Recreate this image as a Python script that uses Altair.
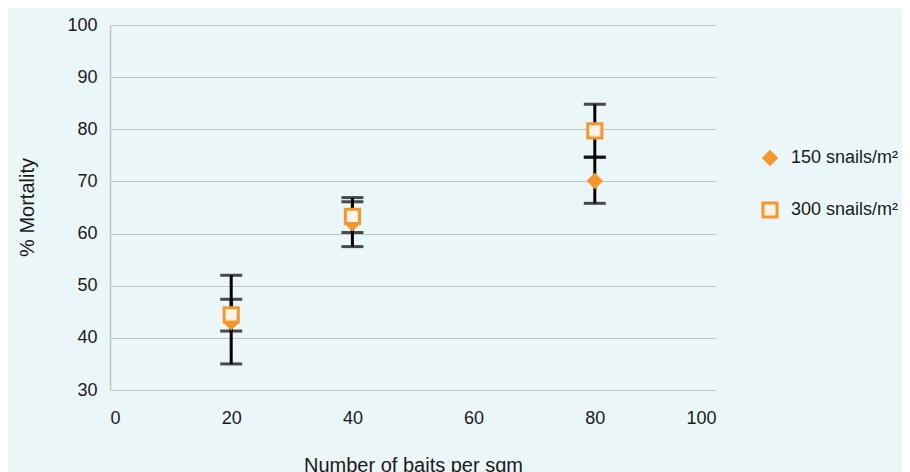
import altair as alt
import pandas as pd

# ---- data ----
baits = [20, 40, 80]
series_names = ["150 snails/m²", "300 snails/m²"]
mort_150 = [43.0, 62.0, 70.1]
low_150 = [35.0, 57.5, 65.8]
high_150 = [52.0, 66.9, 74.7]
mort_300 = [44.4, 63.3, 79.7]
low_300 = [41.3, 60.2, 74.6]
high_300 = [47.4, 66.1, 84.8]

x_ticks = [0, 20, 40, 60, 80, 100]
y_ticks = [30, 40, 50, 60, 70, 80, 90, 100]

rows = []
for name, m, lo, hi in [(series_names[0], mort_150, low_150, high_150),
                        (series_names[1], mort_300, low_300, high_300)]:
    for b, mv, l, h in zip(baits, m, lo, hi):
        rows.append({"baits": b, "series": name, "mortality": mv, "low": l, "high": h})
df = pd.DataFrame(rows)

ORANGE = "#F7962B"
LIGHT = "#FEF3E8"
BG = "#EAF6F8"
GRID = "#C4C4C4"
FONT = "Liberation Sans, Arial"
TXT = "#1a1a1a"

x_enc = alt.X("baits:Q",
              scale=alt.Scale(domain=[0, 100], nice=False),
              axis=alt.Axis(values=x_ticks, grid=False, domain=False, ticks=False,
                            labelFont=FONT, labelFontSize=18, labelColor=TXT,
                            labelPadding=19,
                            title="Number of baits per sqm", titleFont=FONT,
                            titleFontSize=20, titleFontWeight="normal", titleColor=TXT,
                            titleY=75, titleBaseline="middle"))
y_scale = alt.Scale(domain=[30, 100], nice=False)

base = alt.Chart(df)

err = base.mark_rule(color="black", strokeWidth=3).encode(
    x=x_enc,
    y=alt.Y("low:Q", scale=y_scale,
            axis=alt.Axis(values=y_ticks, grid=True, gridColor=GRID, gridWidth=1,
                          domain=True, domainColor=GRID, domainWidth=1.5, ticks=False,
                          labelFont=FONT, labelFontSize=18, labelColor=TXT,
                          labelPadding=13,
                          title="% Mortality", titleFont=FONT, titleFontSize=20,
                          titleFontWeight="normal", titleColor=TXT,
                          titleAngle=270, titleX=-83, titleY=182,
                          titleAlign="center", titleBaseline="middle")),
    y2="high:Q",
)
cap_lo = base.mark_tick(color="black", thickness=3, size=22, orient="horizontal").encode(
    x="baits:Q", y=alt.Y("low:Q", scale=y_scale))
cap_hi = base.mark_tick(color="black", thickness=3, size=22, orient="horizontal").encode(
    x="baits:Q", y=alt.Y("high:Q", scale=y_scale))

legend = alt.Legend(title=None, orient="none", legendX=651, legendY=124,
                    labelFont=FONT, labelFontSize=18, labelColor=TXT, labelLimit=200,
                    symbolStrokeWidth=3, rowPadding=25, labelOffset=12, padding=0)

pts = base.mark_point(filled=False, opacity=1).encode(
    x="baits:Q",
    y=alt.Y("mortality:Q", scale=y_scale),
    shape=alt.Shape("series:N", scale=alt.Scale(domain=series_names, range=["diamond", "square"]),
                    legend=legend),
    fill=alt.Fill("series:N", scale=alt.Scale(domain=series_names, range=[ORANGE, LIGHT]),
                  legend=legend),
    stroke=alt.Stroke("series:N", scale=alt.Scale(domain=series_names, range=[ORANGE, ORANGE]),
                      legend=legend),
    size=alt.Size("series:N", scale=alt.Scale(domain=series_names, range=[150, 200]),
                  legend=legend),
    order=alt.Order("series:N"),
)

chart = alt.layer(err, cap_lo, cap_hi, pts).properties(
    width=606, height=365,
    background=BG,
    autosize=alt.AutoSizeParams(type="none"),
    padding={"left": 102, "top": 17, "right": 186, "bottom": 82},
).configure_view(stroke=None).configure_point(strokeWidth=3)

chart.save("out.html", embed_options={"renderer": "svg", "actions": False})
